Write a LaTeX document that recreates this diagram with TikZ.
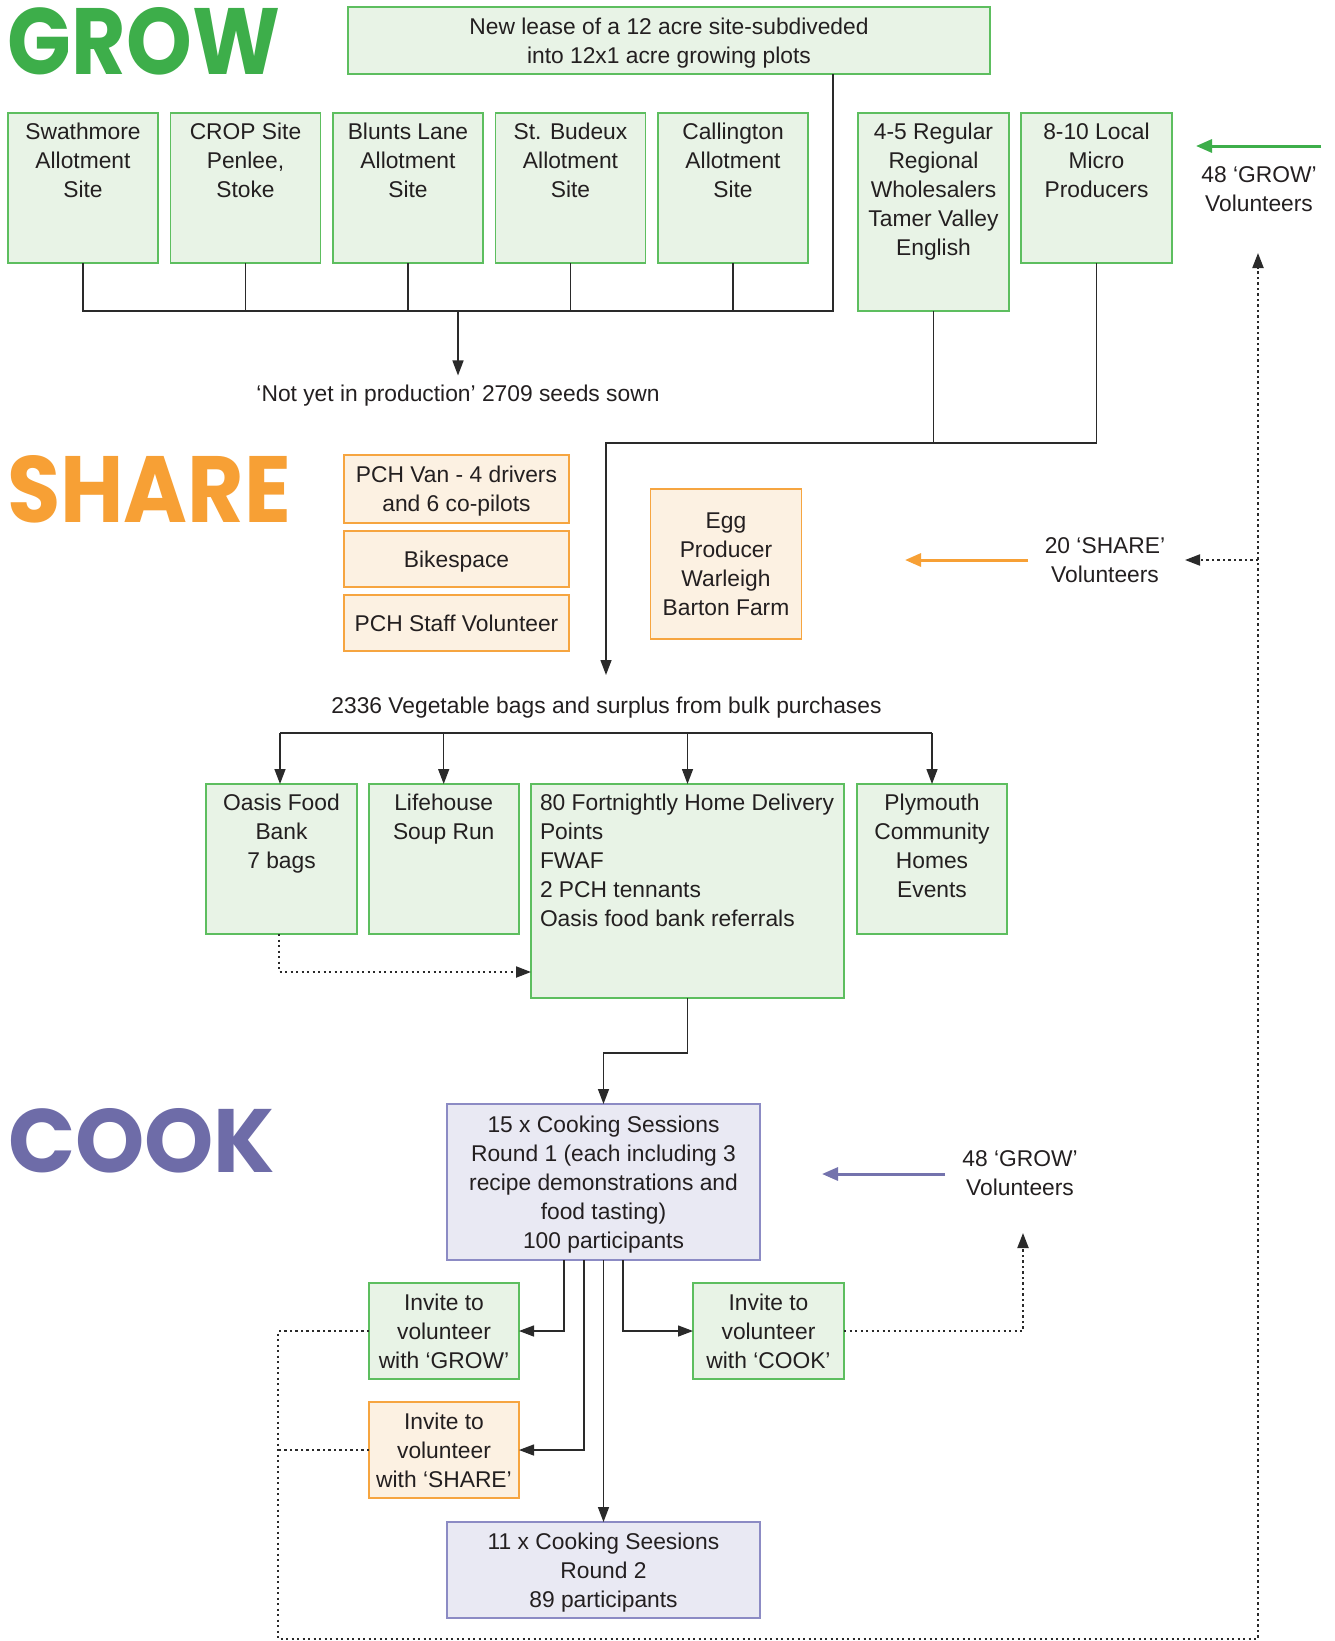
\documentclass[tikz,border=0pt]{standalone}
\usepackage{fontspec}
\setmainfont{Liberation Sans}
\newfontfamily\headfont{Poppins}
\usetikzlibrary{arrows.meta}
\definecolor{ggreen}{HTML}{3DAE4A}
\definecolor{gstroke}{HTML}{5DBE5F}
\definecolor{gfill}{HTML}{E8F3E6}
\definecolor{oorange}{HTML}{F7A035}
\definecolor{ostroke}{HTML}{F6A540}
\definecolor{ofill}{HTML}{FCF1E2}
\definecolor{ppurple}{HTML}{6E6CA8}
\definecolor{pstroke}{HTML}{8C8BC4}
\definecolor{pfill}{HTML}{E9E9F3}
\definecolor{parrow}{HTML}{7473AD}
\definecolor{txt}{HTML}{231F20}
\definecolor{lineclr}{HTML}{2A2A2A}
% width, height, first-baseline offset from top, text
\newcommand\boxtext[4]{\parbox[c][#2][t]{#1}{\centering\rule{0pt}{#3}#4}}
\newcommand\toptext[3]{\boxtext{#1}{#2}{26.5pt}{#3}}
\begin{document}
\begin{tikzpicture}[x=1pt,y=-1pt,
  every node/.style={font=\fontsize{22.8}{29}\selectfont, text=txt, inner sep=0pt, outer sep=0pt},
  gbox/.style={draw=gstroke, fill=gfill, line width=1.8pt},
  obox/.style={draw=ostroke, fill=ofill, line width=1.8pt},
  pbox/.style={draw=pstroke, fill=pfill, line width=1.8pt},
  conn/.style={draw=lineclr, line width=1.4pt},
  arr/.style={-{Triangle[length=15pt,width=11pt]}},
  dotl/.style={draw=lineclr, line width=2pt, dash pattern=on 2.2pt off 3.3pt},
  title/.style={inner sep=0pt, anchor=north west},
  tarrow/.style={line width=3pt, -{Triangle[length=16pt,width=13pt]}}
]
\fill[white] (0,0) rectangle (1335,1641);
\useasboundingbox (0,0) rectangle (1335,1641);

% titles
\node[title, text=ggreen] (tgrow) at (8,7) {\resizebox{272pt}{67pt}{\headfont\bfseries GROW}};
\node[title, text=oorange] (tshare) at (7,455) {\resizebox{284pt}{67pt}{\headfont\bfseries SHARE}};
\node[title, text=ppurple] (tcook) at (8,1108) {\resizebox{267pt}{64pt}{\headfont\bfseries COOK}};

% GROW
\node[gbox] (lease) at (669,40.5) {\boxtext{642pt}{67pt}{27.3pt}{New lease of a 12 acre site-subdiveded\\into 12x1 acre growing plots}};
\node[gbox] (sw) at (83,188) {\toptext{150pt}{150pt}{Swathmore\\Allotment\\Site}};
\node[gbox] (crop) at (245.5,188) {\toptext{150pt}{150pt}{CROP Site\\Penlee,\\Stoke}};
\node[gbox] (blunts) at (408,188) {\toptext{150pt}{150pt}{Blunts Lane\\Allotment\\Site}};
\node[gbox] (budeux) at (570.5,188) {\toptext{150pt}{150pt}{St. Budeux\\Allotment\\Site}};
\node[gbox] (calling) at (733,188) {\toptext{150pt}{150pt}{Callington\\Allotment\\Site}};
\node[gbox] (whole) at (933.5,212) {\toptext{151pt}{198pt}{4-5 Regular\\Regional\\Wholesalers\\Tamer Valley\\English}};
\node[gbox] (micro) at (1096.5,188) {\toptext{151pt}{150pt}{8-10 Local\\Micro\\Producers}};
\node[anchor=base] (notyet) at (458,401) {‘Not yet in production’ 2709 seeds sown};
\node[align=center] (growvol) at (1259,189) {48 ‘GROW’\\Volunteers};

% SHARE
\node[obox] (van) at (456.5,489) {\boxtext{225pt}{68pt}{27.8pt}{PCH Van - 4 drivers\\and 6 co-pilots}};
\node[obox] (bike) at (456.5,559) {\boxtext{225pt}{56pt}{36.3pt}{Bikespace}};
\node[obox] (staff) at (456.5,623) {\boxtext{225pt}{56pt}{36.3pt}{PCH Staff Volunteer}};
\node[obox] (egg) at (726,564) {\boxtext{151pt}{150pt}{39.8pt}{Egg\\Producer\\Warleigh\\Barton Farm}};
\node[align=center] (sharevol) at (1105,560) {20 ‘SHARE’\\Volunteers};
\node[anchor=base] (bags) at (606.5,713) {2336 Vegetable bags and surplus from bulk purchases};

\node[gbox] (oasis) at (281.5,859) {\toptext{151pt}{150pt}{Oasis Food\\Bank\\7 bags}};
\node[gbox] (life) at (443.7,859) {\toptext{150pt}{150pt}{Lifehouse\\Soup Run}};
\node[gbox] (home) at (687.5,891) {\parbox[c][214pt][t]{313pt}{\raggedright\leftskip=9pt\rule{0pt}{26.5pt}80 Fortnightly Home Delivery\\Points\\FWAF\\2 PCH tennants\\Oasis food bank referrals}};
\node[gbox] (plym) at (932,859) {\toptext{150pt}{150pt}{Plymouth\\Community\\Homes\\Events}};

% COOK
\node[pbox] (cook1) at (603.5,1182) {\boxtext{313pt}{156pt}{28.3pt}{15 x Cooking Sessions\\Round 1 (each including 3\\recipe demonstrations and\\food tasting)\\100 participants}};
\node[gbox] (ginv) at (444,1331) {\boxtext{150pt}{96pt}{27.3pt}{Invite to\\volunteer\\with ‘GROW’}};
\node[gbox] (cinv) at (768.5,1331) {\boxtext{151pt}{96pt}{27.3pt}{Invite to\\volunteer\\with ‘COOK’}};
\node[obox] (sinv) at (444,1450) {\boxtext{150pt}{96pt}{27.3pt}{Invite to\\volunteer\\with ‘SHARE’}};
\node[pbox] (cook2) at (603.5,1570) {\boxtext{313pt}{96pt}{27.3pt}{11 x Cooking Seesions\\Round 2\\89 participants}};
\node[align=center] (cookvol) at (1020,1173.5) {48 ‘GROW’\\Volunteers};

% coordinates
\coordinate (bus) at (0,311);
\coordinate (bus2) at (0,443);
\coordinate (bagtop) at (606,675);
\coordinate (br) at (0,733);
\coordinate (ga1) at (1321,146);
\coordinate (ga2) at (1196,146);
\coordinate (oa1) at (1028,560);
\coordinate (oa2) at (905,560);
\coordinate (pa1) at (945,1174);
\coordinate (pa2) at (822,1174);
\coordinate (lc) at (278,1639);
\coordinate (rc) at (1258,1639);
\coordinate (growup) at (1258,253);
\coordinate (sharetap) at (1258,560);
\coordinate (sharein) at (1185,560);
\coordinate (cookup) at (1023,1233);

% GROW connectors
\draw[conn] (sw.south) -- (sw.south |- bus) -- ([xshift=164pt]lease.south |- bus) -- ([xshift=164pt]lease.south);
\foreach \n in {crop,blunts,budeux,calling} \draw[conn] (\n.south) -- (\n.south |- bus);
\draw[conn,arr] (notyet.north |- bus) -- ([yshift=9pt]notyet.north);
\draw[conn] (whole.south) -- (whole.south |- bus2);
\draw[conn,arr] (micro.south) -- (micro.south |- bus2) -- (bagtop |- bus2) -- (bagtop);

% SHARE connectors
\draw[conn] ([xshift=-1.5pt]oasis.north |- br) -- (plym.north |- br);
\draw[conn,arr] ([xshift=-1.5pt]oasis.north |- br) -- ([xshift=-1.5pt]oasis.north);
\foreach \n in {life,home,plym} \draw[conn,arr] (\n.north |- br) -- (\n.north);
\draw[dotl,arr] ([xshift=-2.5pt]oasis.south) |- (home.west |- 0,972);
\draw[conn,arr] (home.south) -- ++(0,55) -| (cook1.north);

% COOK connectors
\draw[conn,arr] ([xshift=-39.5pt]cook1.south) |- (ginv.east);
\draw[conn,arr] ([xshift=-19.5pt]cook1.south) |- (sinv.east);
\draw[conn,arr] (cook1.south) -- (cook2.north);
\draw[conn,arr] ([xshift=19.5pt]cook1.south) |- (cinv.west);
\draw[dotl,arr] (cinv.east) -| (cookup);
\draw[dotl,arr] (ginv.west) -| (lc) -- (rc) -- (growup);
\draw[dotl] (sinv.west) -- (sinv.west -| lc);
\draw[dotl,arr] (sharetap) -- (sharein);

% coloured volunteer arrows
\draw[tarrow, ggreen] (ga1) -- (ga2);
\draw[tarrow, oorange] (oa1) -- (oa2);
\draw[tarrow, parrow] (pa1) -- (pa2);
\end{tikzpicture}
\end{document}
